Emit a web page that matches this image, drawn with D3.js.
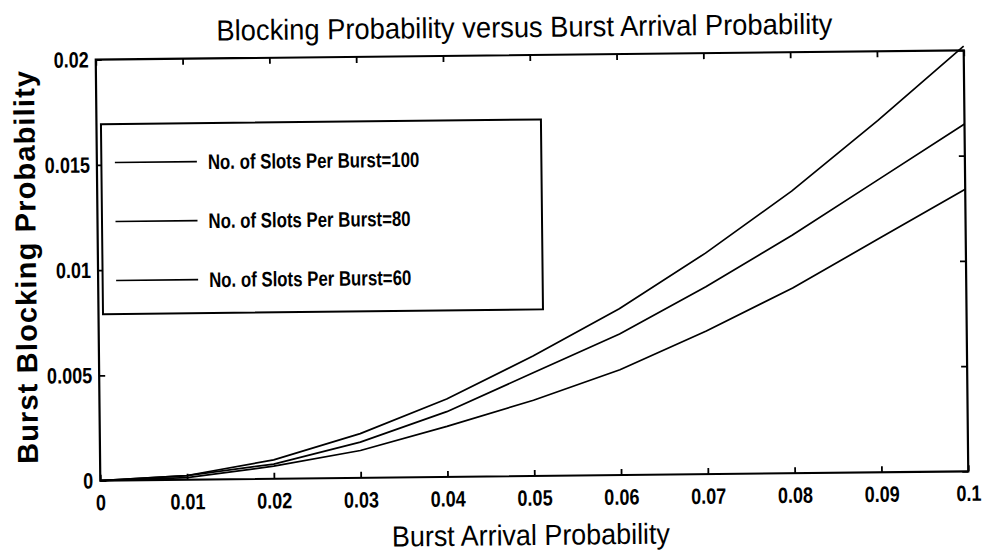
<!DOCTYPE html>
<html>
<head>
<meta charset="utf-8">
<script src="https://cdn.jsdelivr.net/npm/d3@7/dist/d3.min.js"></script>
<style>
  body { margin: 0; background: #fff; }
  svg { display: block; }
</style>
</head>
<body>
<div id="chart"></div>
<script>
// data
var arrivalProb = [0, 0.01, 0.02, 0.03, 0.04, 0.05, 0.06, 0.07, 0.08, 0.09, 0.1];
var slots100 = [0, 0.0002, 0.0009, 0.0021, 0.0037, 0.0057, 0.0079, 0.0105, 0.0134, 0.0167, 0.0202];
var slots80  = [0, 0.0002, 0.0007, 0.0017, 0.0031, 0.0049, 0.0067, 0.0089, 0.0113, 0.0139, 0.0165];
var slots60  = [0, 0.0001, 0.0006, 0.0013, 0.0024, 0.0036, 0.0050, 0.0068, 0.0088, 0.0111, 0.0134];
var seriesNames = ["No. of Slots Per Burst=100", "No. of Slots Per Burst=80", "No. of Slots Per Burst=60"];
var xTicks = [0, 0.01, 0.02, 0.03, 0.04, 0.05, 0.06, 0.07, 0.08, 0.09, 0.1];
var xTickLabels = ["0", "0.01", "0.02", "0.03", "0.04", "0.05", "0.06", "0.07", "0.08", "0.09", "0.1"];
var yTicks = [0, 0.005, 0.01, 0.015, 0.02];
var yTickLabels = ["0", "0.005", "0.01", "0.015", "0.02"];

var W = 984, H = 554;
var margin = {top: 55, right: 18, bottom: 78, left: 98},
    width = W - margin.left - margin.right,
    height = H - margin.top - margin.bottom;

var sans = "'Liberation Sans', Arial, Helvetica, sans-serif";

// squeeze a text horizontally so it looks like a narrow face
function narrow(sel, factor) {
  sel.each(function() {
    var len = this.getComputedTextLength();
    if (len > 0) {
      d3.select(this)
        .attr("textLength", len * factor)
        .attr("lengthAdjust", "spacingAndGlyphs");
    }
  });
}

var svg = d3.select("#chart")
  .append("svg")
    .attr("width", W)
    .attr("height", H);

// the scanned figure is slightly tilted
var root = svg.append("g")
    .attr("transform", "rotate(-0.62,532,265)");

var g = root.append("g")
    .attr("transform", "translate(" + margin.left + "," + margin.top + ")");

var x = d3.scaleLinear().domain([0, 0.1]).range([0, width]);
var y = d3.scaleLinear().domain([0, 0.02]).range([height, 0]);

// bottom axis with labels, ticks pointing in
var xAxis = g.append("g")
    .attr("transform", "translate(0," + height + ")")
    .call(d3.axisBottom(x).tickValues(xTicks).tickSizeInner(-6).tickSizeOuter(0).tickPadding(14)
      .tickFormat(function(d, i) { return xTickLabels[i]; }));

var yAxis = g.append("g")
    .call(d3.axisLeft(y).tickValues(yTicks).tickSizeInner(-6).tickSizeOuter(0).tickPadding(7)
      .tickFormat(function(d, i) { return yTickLabels[i]; }));

// top and right: ticks only
var xTop = g.append("g")
    .call(d3.axisTop(x).tickValues(xTicks).tickSizeInner(-6).tickSizeOuter(0).tickFormat(""));
var yRight = g.append("g")
    .attr("transform", "translate(" + width + ",0)")
    .call(d3.axisRight(y).tickValues(yTicks).tickSizeInner(-6).tickSizeOuter(0).tickFormat(""));

[xAxis, yAxis, xTop, yRight].forEach(function(a) {
  a.select(".domain").remove();
  a.selectAll(".tick line").attr("stroke", "#000").attr("stroke-width", 1.8);
  a.selectAll("text")
    .attr("fill", "#000")
    .style("font-family", sans)
    .style("font-size", "22px")
    .style("font-weight", "bold");
});
narrow(xAxis.selectAll("text"), 0.82);
narrow(yAxis.selectAll("text"), 0.82);

// frame
g.append("rect")
    .attr("x", 0).attr("y", 0)
    .attr("width", width).attr("height", height)
    .attr("fill", "none")
    .attr("stroke", "#000")
    .attr("stroke-width", 2.2);

// curves
var allSeries = [slots100, slots80, slots60];
var line = d3.line()
    .x(function(d, i) { return x(arrivalProb[i]); })
    .y(function(d) { return y(d); });

g.selectAll(".curve")
  .data(allSeries)
  .enter()
  .append("path")
    .attr("class", "curve")
    .attr("fill", "none")
    .attr("stroke", "#000")
    .attr("stroke-width", 1.7)
    .attr("stroke-linejoin", "round")
    .attr("d", line);

// legend
var legend = root.append("g");
legend.append("rect")
    .attr("x", 102.5).attr("y", 119.5)
    .attr("width", 440).attr("height", 190)
    .attr("fill", "#fff")
    .attr("stroke", "#000")
    .attr("stroke-width", 2);

var entry = legend.selectAll(".entry")
  .data(seriesNames)
  .enter()
  .append("g")
    .attr("class", "entry")
    .attr("transform", function(d, i) { return "translate(0," + (158 + i * 59) + ")"; });

entry.append("line")
    .attr("x1", 116).attr("x2", 198)
    .attr("y1", 0).attr("y2", 0)
    .attr("stroke", "#000")
    .attr("stroke-width", 1.7);

var legendText = entry.append("text")
    .attr("x", 209)
    .attr("dy", "0.36em")
    .style("font-family", sans)
    .style("font-size", "21px")
    .style("font-weight", "bold")
    .text(function(d) { return d; });
narrow(legendText, 0.8);

// title and axis labels
root.append("text")
    .attr("x", 527)
    .attr("y", 37)
    .attr("text-anchor", "middle")
    .attr("textLength", 616)
    .attr("lengthAdjust", "spacingAndGlyphs")
    .style("font-family", sans)
    .style("font-size", "29px")
    .text("Blocking Probability versus Burst Arrival Probability");

root.append("text")
    .attr("x", 528)
    .attr("y", 545)
    .attr("text-anchor", "middle")
    .attr("textLength", 278)
    .attr("lengthAdjust", "spacingAndGlyphs")
    .style("font-family", sans)
    .style("font-size", "29px")
    .text("Burst Arrival Probability");

root.append("text")
    .attr("transform", "translate(36,262) rotate(-90)")
    .attr("text-anchor", "middle")
    .attr("textLength", 393)
    .attr("lengthAdjust", "spacing")
    .style("font-family", sans)
    .style("font-size", "29px")
    .style("font-weight", "bold")
    .text("Burst Blocking Probability");
</script>
</body>
</html>
